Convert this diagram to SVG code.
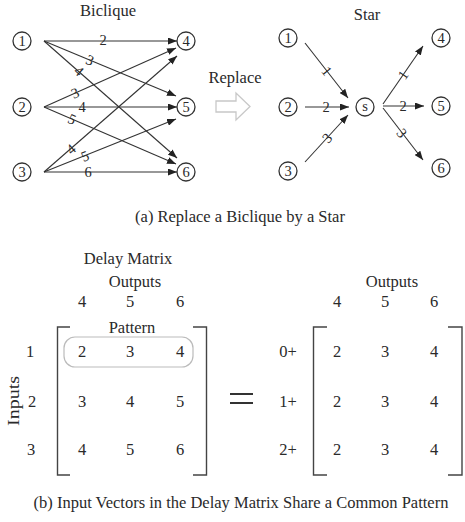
<svg xmlns="http://www.w3.org/2000/svg" width="465" height="522" viewBox="0 0 465 522">
<defs>
<marker id="ah" markerWidth="9" markerHeight="7" refX="9" refY="3.5" orient="auto" markerUnits="userSpaceOnUse">
<path d="M0,0 L9,3.5 L0,7 Z" fill="#222"/>
</marker>
<style>
text{font-family:"Liberation Serif","Times New Roman",serif;fill:#2a2a2a;}
.n circle{fill:#fff;stroke:#333;stroke-width:1.3;}
.n text{font-size:14.5px;text-anchor:middle;}
.e line{stroke:#333;stroke-width:1.1;marker-end:url(#ah);}
.lb{font-size:14.5px;text-anchor:middle;}
.t{font-size:16.5px;text-anchor:middle;}
.m{font-size:16.5px;text-anchor:middle;}
.br{fill:none;stroke:#444;stroke-width:1.4;}
</style>
</defs>
<rect width="465" height="522" fill="#fff"/>

<!-- Biclique -->
<text class="t" x="108" y="16">Biclique</text>
<g id="b1" class="n"><circle cx="22" cy="41" r="9"/><text x="22" y="46">1</text></g>
<g id="b2" class="n"><circle cx="22" cy="107" r="9"/><text x="22" y="112">2</text></g>
<g id="b3" class="n"><circle cx="22" cy="172" r="9"/><text x="22" y="177">3</text></g>
<g id="b4" class="n"><circle cx="186" cy="41" r="9"/><text x="186" y="46">4</text></g>
<g id="b5" class="n"><circle cx="186" cy="107" r="9"/><text x="186" y="112">5</text></g>
<g id="b6" class="n"><circle cx="186" cy="172" r="9"/><text x="186" y="177">6</text></g>

<g id="biclique-edges" class="e">
<line x1="44" y1="41" x2="177" y2="41"/>
<line x1="44" y1="41" x2="176" y2="96"/>
<line x1="44" y1="41" x2="177" y2="158"/>
<line x1="44" y1="107" x2="176" y2="48"/>
<line x1="44" y1="107" x2="177" y2="107"/>
<line x1="44" y1="107" x2="176" y2="164"/>
<line x1="44" y1="172" x2="177" y2="56"/>
<line x1="44" y1="172" x2="176" y2="119"/>
<line x1="44" y1="172" x2="177" y2="172"/>
</g>
<g id="biclique-labels" class="lb">
<text x="103" y="45">2</text>
<text transform="translate(90,60) rotate(22.6)" y="5">3</text>
<text transform="translate(79,71) rotate(41.3)" y="5">4</text>
<text transform="translate(75,93) rotate(-24)" y="5">3</text>
<text x="82" y="112">4</text>
<text transform="translate(72,119) rotate(23.4)" y="5">5</text>
<text transform="translate(71,149) rotate(-41)" y="5">4</text>
<text transform="translate(85,156) rotate(-21.9)" y="5">5</text>
<text x="88" y="177">6</text>
</g>

<!-- Replace -->
<text class="t" x="235" y="83">Replace</text>
<g id="replace-arrow">
<path d="M216,101 L236,101 L236,93 L250,106.5 L236,120 L236,112 L216,112 Z" fill="#fff" stroke="#c8c8c8" stroke-width="1.3"/>
</g>

<!-- Star -->
<text class="t" x="367" y="20">Star</text>
<g id="s1" class="n"><circle cx="288" cy="38" r="9"/><text x="288" y="43">1</text></g>
<g id="s2" class="n"><circle cx="288" cy="107" r="9"/><text x="288" y="112">2</text></g>
<g id="s3" class="n"><circle cx="288" cy="171" r="9"/><text x="288" y="176">3</text></g>
<g id="ss" class="n"><circle cx="365" cy="107" r="9"/><text x="365" y="111">s</text></g>
<g id="s4" class="n"><circle cx="441" cy="38" r="9"/><text x="441" y="43">4</text></g>
<g id="s5" class="n"><circle cx="441" cy="106" r="9"/><text x="441" y="111">5</text></g>
<g id="s6" class="n"><circle cx="441" cy="168" r="9"/><text x="441" y="173">6</text></g>

<g id="star-edges" class="e">
<line x1="305" y1="43" x2="348" y2="98"/>
<line x1="305" y1="107" x2="349" y2="107"/>
<line x1="305" y1="162" x2="348" y2="115"/>
<line x1="383" y1="104" x2="423" y2="46"/>
<line x1="383" y1="106" x2="424" y2="106"/>
<line x1="383" y1="108" x2="423" y2="160"/>
</g>
<g id="star-labels" class="lb">
<text transform="translate(327,71) rotate(52)" y="5">1</text>
<text x="326" y="112">2</text>
<text transform="translate(327,138) rotate(-47)" y="5">3</text>
<text transform="translate(403,75) rotate(-55)" y="5">1</text>
<text x="403" y="111">2</text>
<text transform="translate(402,133) rotate(52)" y="5">3</text>
</g>

<text class="t" x="240" y="222">(a) Replace a Biclique by a Star</text>

<!-- Delay matrix -->
<g id="delay-matrix">
<text class="m" x="128" y="264">Delay Matrix</text>
<text class="m" x="135" y="287">Outputs</text>
<text class="m" x="82" y="307">4</text>
<text class="m" x="130" y="307">5</text>
<text class="m" x="180" y="307">6</text>
<text class="m" x="132" y="333">Pattern</text>
<rect x="64" y="337" width="129" height="30" rx="11" fill="none" stroke="#bbb" stroke-width="1.2"/>
<path class="br" d="M70,327 H57.5 V475 H70"/>
<path class="br" d="M193,327 H206.5 V475 H193"/>
<text class="m" x="30" y="357">1</text>
<text class="m" x="32" y="407">2</text>
<text class="m" x="31" y="455">3</text>
<text class="m" transform="translate(19,401) rotate(-90)" textLength="50" lengthAdjust="spacingAndGlyphs">Inputs</text>
<text class="m" x="82" y="357">2</text>
<text class="m" x="130" y="357">3</text>
<text class="m" x="180" y="357">4</text>
<text class="m" x="82" y="407">3</text>
<text class="m" x="130" y="407">4</text>
<text class="m" x="180" y="407">5</text>
<text class="m" x="82" y="455">4</text>
<text class="m" x="130" y="455">5</text>
<text class="m" x="180" y="455">6</text>
</g>

<g id="equals">
<line x1="230" y1="394" x2="253" y2="394" stroke="#333" stroke-width="2"/>
<line x1="230" y1="403" x2="253" y2="403" stroke="#333" stroke-width="2"/>
</g>

<g id="pattern-matrix">
<text class="m" x="392" y="287">Outputs</text>
<text class="m" x="337" y="307">4</text>
<text class="m" x="385" y="307">5</text>
<text class="m" x="434" y="307">6</text>
<path class="br" d="M327,327 H313.5 V475 H327"/>
<path class="br" d="M448,327 H462 V475 H448" stroke-width="2"/>
<text class="m" x="288" y="357">0+</text>
<text class="m" x="288" y="407">1+</text>
<text class="m" x="288" y="455">2+</text>
<text class="m" x="337" y="357">2</text>
<text class="m" x="385" y="357">3</text>
<text class="m" x="434" y="357">4</text>
<text class="m" x="337" y="407">2</text>
<text class="m" x="385" y="407">3</text>
<text class="m" x="434" y="407">4</text>
<text class="m" x="337" y="455">2</text>
<text class="m" x="385" y="455">3</text>
<text class="m" x="434" y="455">4</text>
</g>

<text class="t" x="241" y="508">(b) Input Vectors in the Delay Matrix Share a Common Pattern</text>
</svg>
